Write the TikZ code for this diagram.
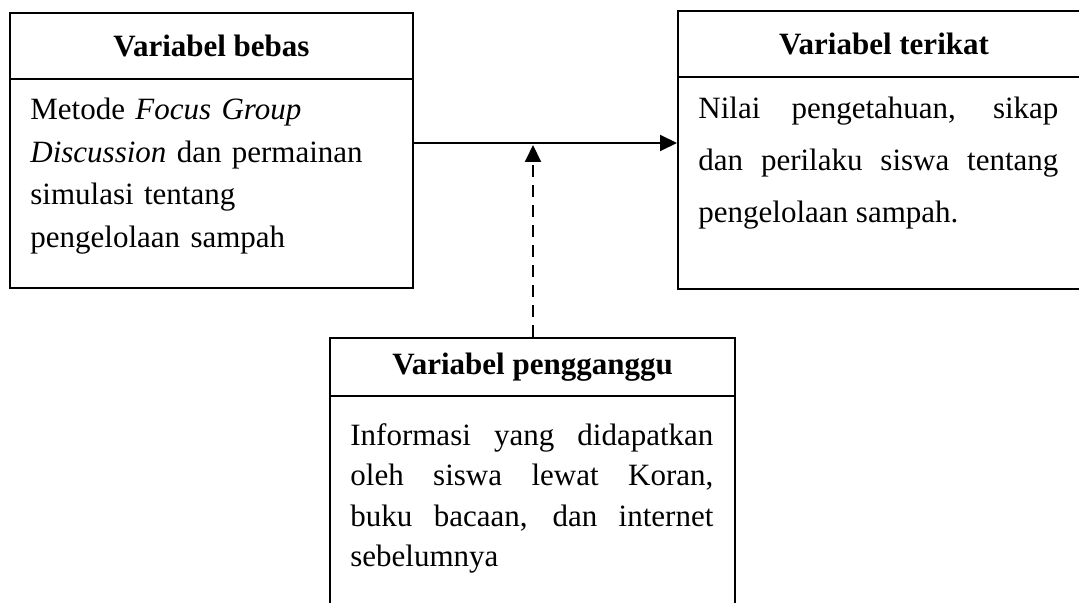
\documentclass[tikz,border=0pt]{standalone}
\usepackage{fontspec}
\setmainfont{Liberation Serif}
\usetikzlibrary{arrows.meta}

\begin{document}
\begin{tikzpicture}[x=0.5pt,y=-0.5pt,
  kepala/.style={draw,line width=1pt,anchor=north west,minimum height=33pt,inner sep=0pt,
    font=\fontsize{15.5pt}{18pt}\selectfont\bfseries},
  badan/.style={draw,line width=1pt,anchor=north west,inner sep=0pt},
  isi/.style={anchor=base west,inner sep=0pt},
  panah/.style={line width=1pt,-{Triangle[length=8.5pt,width=8pt]}}]
\useasboundingbox (0,0) rectangle (1079,603);
\clip (0,0) rectangle (1079,603);

% Variabel bebas
\node[kepala,minimum width=201.5pt] (bebas) at (9,12) {Variabel bebas};
\node[badan,minimum width=201.5pt,minimum height=104.5pt] (bebasbody) at (9,78) {};
\node[isi,text width=185pt,align=left,font=\fontsize{15.5pt}{21.25pt}\selectfont] (bebastxt) at (30,120)
  {Metode \textit{Focus Group}\\ \textit{Discussion} dan permainan\\ simulasi tentang\\ pengelolaan sampah};

% Variabel terikat
\node[kepala,minimum width=206pt] (terikat) at (677,10) {Variabel terikat};
\node[badan,minimum width=206pt,minimum height=106pt] (terikatbody) at (677,76) {};
\node[isi,text width=180pt,align=justify,font=\fontsize{15.5pt}{26pt}\selectfont] (terikattxt) at (698,119)
  {Nilai pengetahuan, sikap\linebreak dan perilaku siswa tentang\linebreak pengelolaan sampah.};

% Variabel pengganggu
\node[kepala,minimum width=202.5pt,minimum height=29pt] (ganggu) at (329,337) {Variabel pengganggu};
\node[badan,minimum width=202.5pt,minimum height=120pt] (ganggubody) at (329,395) {};
\node[isi,text width=181.5pt,align=justify,font=\fontsize{15.5pt}{20.3pt}\selectfont] (ganggutxt) at (350,445)
  {Informasi yang didapatkan\linebreak oleh siswa lewat Koran,\linebreak buku bacaan, dan internet\linebreak sebelumnya};

% Panah
\coordinate (temu) at (533,143);
\draw[panah] (temu -| bebasbody.east) -- (temu -| terikatbody.west);
\draw[panah,dash pattern=on 6pt off 4pt,shorten >=1pt] (ganggu.north -| temu) -- (temu);
\end{tikzpicture}
\end{document}
